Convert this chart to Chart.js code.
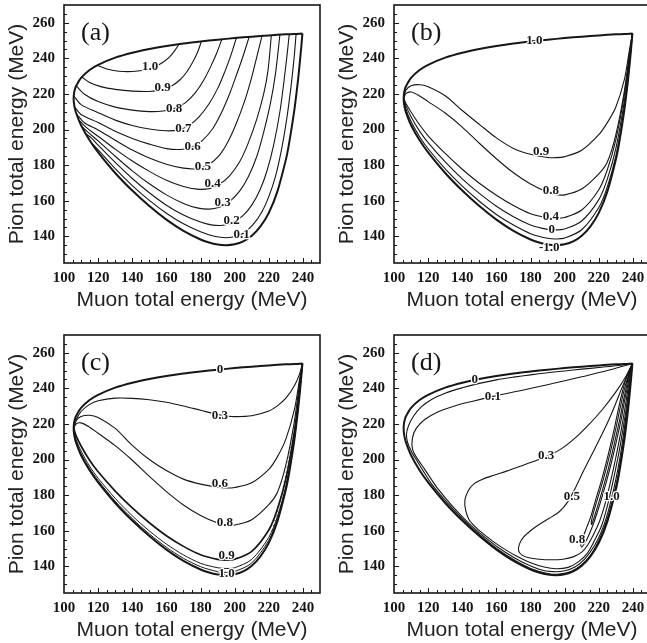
<!DOCTYPE html>
<html>
<head>
<meta charset="utf-8">
<script src="https://cdn.jsdelivr.net/npm/chart.js@4.4.1/dist/chart.umd.min.js"></script>
<style>
  html, body { margin: 0; padding: 0; background: #fff; overflow: hidden; width: 647px; height: 643px; }
  .panel { position: absolute; width: 330px; height: 320px; }
</style>
</head>
<body>
<div class="panel" style="left:0;top:0"><canvas id="pa" width="330" height="320"></canvas></div>
<div class="panel" style="left:330px;top:0"><canvas id="pb" width="330" height="320"></canvas></div>
<div class="panel" style="left:0;top:330px"><canvas id="pc" width="330" height="320"></canvas></div>
<div class="panel" style="left:330px;top:330px"><canvas id="pd" width="330" height="320"></canvas></div>
<script>
// axis ticks (MeV)
const xTicks = [100, 120, 140, 160, 180, 200, 220, 240];
const yTicks = [140, 160, 180, 200, 220, 240, 260];

// allowed region: from the upper-right corner along the top, round the left edge, back along the bottom
const boundary = [
  [239.7, 254], [235, 253.7], [230, 253.5], [220, 252.9], [210, 252.2], [200, 251.4], [190, 250.5],
  [180, 249.5], [170, 248.4], [160, 247.0], [150, 245.3], [140, 243.2], [130, 240.4], [120, 236.4],
  [115, 233.5], [110, 229.1], [107, 224.3], [106.2, 222], [105.8, 219.8], [105.66, 217.5], [105.8, 215.1],
  [106.2, 212.6], [107, 209.6], [110, 202.4], [115, 194.0], [120, 187.2], [130, 175.6], [140, 165.7],
  [150, 157.0], [160, 149.4], [170, 143.1], [180, 138.2], [185, 136.5], [190, 135.4], [195, 135.0],
  [200, 135.5], [205, 137.1], [210, 140.3], [215, 145.4], [220, 153.2], [225, 165.1], [230, 183.1],
  [232, 192.8], [235, 211.2], [237, 226.8], [238, 236.0], [239, 246.2], [239.7, 254]
];

// panel (a) contours
const a10 = [[119.5, 236.1], [125, 234], [132, 232.8], [140, 232.6], [147, 233.5], [153, 235.2], [158, 237.8], [162, 241], [165, 244.5], [167.5, 248.05]];
const a09 = [[110.5, 229.5], [115, 226.5], [122, 224], [130, 222.6], [140, 221.6], [150, 221.4], [157, 222.3], [163, 224.5], [168, 228], [172, 232.5], [176, 239], [178.5, 244], [180.5, 249.55]];
const a08 = [[107.2, 224.5], [112, 219.8], [120, 215.7], [130, 212.6], [140, 210.9], [150, 210.1], [158, 210.4], [165, 211.9], [171, 215], [177, 220.8], [182, 228], [186, 235.5], [189.5, 243], [192.5, 250.75]];
const a07 = [[105.8, 218.8], [110, 214], [120, 209.5], [130, 205.3], [140, 202.3], [150, 200.3], [160, 199.3], [167, 199.8], [173, 202.2], [179, 207], [185, 214.5], [190, 223], [194, 232], [197.5, 241], [201, 251.5]];
const a06 = [[106.2, 212.8], [110, 208.5], [120, 204], [130, 199], [140, 195], [150, 191.8], [160, 189.3], [168, 188.8], [175, 190.2], [181, 193.8], [187, 200.3], [192, 209], [197, 220], [201, 230.5], [205, 241.5], [208.5, 252.1]];
const a05 = [[107.4, 208.7], [112, 203.8], [120, 199.8], [130, 194], [140, 188.5], [150, 184], [160, 180.5], [170, 178.3], [178, 178], [185, 180.5], [191, 185.5], [196, 193], [201, 203.5], [206, 216.5], [210, 229.5], [213, 241], [216, 252.6]];
const a04 = [[108.8, 205.3], [113, 201.2], [120, 196.2], [130, 189], [140, 182.3], [150, 176.5], [160, 171.5], [170, 168], [178, 166.5], [185, 166.8], [191, 169.2], [197, 174], [203, 182], [208, 192.5], [213, 206], [217, 220], [219.5, 233], [221.5, 253]];
const a03 = [[110.5, 201.6], [114, 198.6], [120, 193.6], [130, 185], [140, 176.8], [150, 169.5], [160, 163.3], [170, 158.5], [178, 156], [185, 155.3], [191, 156.3], [197, 159.5], [203, 165.5], [208, 173.5], [213, 185], [217, 198.5], [221, 215], [224, 232], [226.5, 253.3]];
const a02 = [[113, 197.4], [116, 195.3], [120, 191.2], [130, 181.5], [140, 172.5], [150, 164.5], [160, 157.5], [170, 152], [180, 148], [187, 146.3], [193, 146.2], [199, 147.8], [205, 151.8], [210, 157.5], [215, 166.5], [219, 177], [223, 192], [226.5, 210], [229, 228], [230.7, 242], [232, 253.6]];
const a01 = [[116, 192.6], [120, 188.6], [130, 178], [140, 168.5], [150, 160.2], [160, 153], [170, 147], [180, 142.5], [188, 140], [195, 139.2], [201, 140], [206, 142.3], [211, 146.8], [216, 153.8], [220, 162.3], [224, 174], [227.5, 189], [230.5, 206], [233, 224], [234.8, 240], [236, 253.75]];
const labelsA = [['1.0', 150.4, 235.3], ['0.9', 157.8, 223.4], ['0.8', 164.5, 211.8], ['0.7', 169.9, 200.5], ['0.6', 175.4, 190.6],
  ['0.5', 181.3, 179.3], ['0.4', 187.1, 169.4], ['0.3', 193, 158.8], ['0.2', 198.2, 148.6], ['0.1', 204.1, 141]];

// panels (b) and (c): curves from the left edge to the upper-right corner, on one muon-energy grid
const muonGrid = [105.66, 107, 110, 115, 120, 130, 140, 150, 160, 170, 180, 190, 195, 200, 210, 220, 225, 230, 235, 238, 239.7];
const b09 = [217.5, 222.1, 224.6, 225.2, 224.1, 219.0, 210.7, 202.9, 195.3, 189.4, 186.1, 184.3, 184.2, 184.8, 188.4, 197.1, 203.9, 212.7, 228.2, 245, 254];
const b08 = [217.5, 220.2, 221.1, 218.9, 215.7, 209.3, 201.4, 192.3, 183.6, 175.7, 169.4, 164.8, 163.4, 163.3, 166.6, 175.1, 181.8, 197.2, 221.8, 243.2, 254];
const b04 = [217.5, 214.7, 209.9, 202.7, 196.5, 186.6, 177.7, 169.8, 163.1, 157.3, 152.7, 150.4, 150.1, 150.6, 154.8, 166.2, 177.4, 194.4, 219.7, 241.4, 254];
const b00 = [217.5, 213.3, 207.2, 199.1, 192.6, 181.8, 172.3, 164.1, 156.9, 151.0, 146.4, 143.9, 143.6, 144.1, 148.6, 160.6, 172.1, 189.4, 216.3, 239.6, 254];
const bLow = [217.5, 211.4, 204.5, 196.0, 189.2, 177.9, 168.2, 159.7, 152.3, 146.3, 141.5, 138.9, 138.5, 139.0, 143.7, 156.2, 167.8, 185.2, 212.5, 236.9, 254];
const labelsB = [['1.0', 182.3, 250], ['0.9', 186.2, 187.4], ['0.8', 191.9, 165.4], ['0.4', 191.9, 150.8], ['0', 192.5, 143.6], ['-1.0', 191, 133.5]];

const c03 = [217.5, 222, 227, 231, 233, 234.5, 234.4, 233.6, 232.2, 230.1, 227.7, 225.3, 224.5, 224.1, 224.6, 227.3, 230.2, 234.5, 241.5, 248, 254];
const c06 = [217.5, 221.8, 224.2, 224.9, 223.6, 217.5, 208.0, 200.0, 193.8, 189.0, 186.2, 184.4, 184.0, 184.3, 187.0, 194.5, 201.5, 211.5, 228.0, 245.0, 254];
const c08 = [217.5, 220.0, 220.6, 218.2, 214.8, 207.8, 199.6, 190.5, 182.0, 174.5, 168.6, 164.4, 163.2, 163.2, 166.2, 174.6, 181.5, 197.0, 221.5, 243.0, 254];
const c09 = [217.5, 213.6, 207.6, 199.6, 193.1, 182.3, 172.8, 164.5, 157.2, 151.2, 146.5, 143.9, 143.5, 144.0, 148.4, 160.4, 172.0, 189.2, 216.0, 239.4, 254];
const cLow1 = [217.5, 211.6, 204.8, 196.3, 189.5, 178.2, 168.4, 159.9, 152.5, 146.4, 141.7, 139.2, 138.8, 139.2, 143.9, 156.3, 167.9, 185.3, 212.6, 237.0, 254];
const cLow2 = [217.5, 210.5, 203.3, 195.0, 188.2, 176.6, 166.8, 158.2, 150.7, 144.5, 139.8, 137.0, 136.6, 137.1, 141.9, 154.6, 166.4, 184.1, 211.8, 236.4, 254];
// broken stretch just inside the right edge
const cDots = [[221.8, 160], [224, 167], [226.2, 175], [228.2, 183.5], [230, 192], [231.8, 201], [233, 207]];
const labelsC = [['0', 191.4, 250.3], ['0.3', 191.4, 224.5], ['0.6', 191.4, 186.4], ['0.8', 194.3, 164.3], ['0.9', 195.3, 146], ['1.0', 195.3, 135.7]];

// panel (d): closed curves hanging from the upper-right corner
const dInner = [[239.7, 254], [230, 252.7], [220, 251.7], [210, 250.8], [200, 249.8], [190, 248.8], [180, 247.6], [170, 246.3], [160, 244.8], [150, 242.8], [140, 240.3], [130, 237.3], [122, 233.8], [116, 229.6], [111.5, 224.5], [108.5, 219], [107.3, 214], [108, 209.5], [110, 205], [113, 200], [117, 193.8], [122, 186.3], [130, 177], [140, 166.8], [150, 157.9], [160, 150.2], [170, 143.8], [180, 138.8], [190, 136], [197, 135.6], [204, 137.2], [210, 140.9], [215, 146.1], [218.7, 152], [222.5, 160], [226, 170], [228.7, 180], [231, 190], [232.8, 200], [234.4, 210], [235.7, 220], [236.9, 230], [238, 240], [239.7, 254]];
const d01 = [[239.7, 254], [225, 250], [210, 246.5], [190, 242], [170, 238], [158, 235.5], [145, 232.5], [135, 230], [125, 226.5], [118, 222.5], [113, 217.5], [110.8, 212], [110.8, 206], [113, 201.5], [118, 194.5], [125, 184.5], [135, 173], [145, 163.2], [155, 155], [165, 148], [175, 142.4], [185, 138.4], [193, 137], [200, 137.5], [206, 139.6], [212, 144.3], [218, 152.5], [221.5, 159.5], [224.5, 167.5], [227.3, 177.5], [229.8, 188], [232.2, 200], [234, 211], [235.8, 223.5], [237.5, 236.5], [239.7, 254]];
const d03 = [[239.7, 254], [236, 247], [230, 238], [222, 228], [214, 219.5], [206, 212], [198, 206], [190, 202], [182, 199], [174, 196.2], [166, 193.5], [158, 191], [152, 189], [147, 186.5], [143.5, 182.5], [141.5, 177], [142, 171.5], [144, 166.2], [147.5, 162.3], [152, 158.5], [158, 154], [165, 149.5], [172, 145.6], [180, 142], [188, 139.6], [195, 138.6], [202, 139.4], [208, 142.5], [213, 147], [217.5, 154.5], [221.5, 162.5], [224.5, 172], [227, 182], [229.5, 193], [231.8, 204], [233.8, 215], [235.8, 227], [237.7, 240], [239.7, 254]];
const d05 = [[239.7, 254], [236.5, 247], [233, 239], [229.5, 230.5], [225.5, 221.5], [221, 212.5], [216, 203], [211, 193.5], [206.5, 184.5], [202, 176.5], [197, 170.8], [191, 167], [185, 163.5], [180, 160], [176, 156.5], [173.5, 152.5], [173, 148.8], [175, 146.3], [179, 144.8], [185, 144], [192, 143.7], [199, 144], [205, 145.3], [210, 148], [213.5, 152], [217, 158], [220.5, 165.5], [223.5, 174.5], [226, 184], [228.5, 194.5], [230.8, 205], [233, 216], [235, 227], [237, 239], [239.7, 254]];
const d08 = [[239.7, 254], [238, 247], [236.6, 240], [235, 232.5], [233.6, 225], [232, 217.5], [230, 209], [227.8, 200], [225.3, 190.5], [222.5, 181], [219.5, 171.5], [216.3, 162.5], [213.2, 155.5], [211, 152], [209.8, 150.8], [209.5, 152.5], [210.8, 156.5], [213, 162], [215.5, 168.5], [218.2, 177.5], [221.2, 187], [224, 197], [226.7, 207.5], [229.2, 218], [231.5, 228.5], [233.8, 238], [236.3, 246.5], [239.7, 254]];
const d10 = [[239.7, 254], [237.6, 247], [236, 240], [234.3, 232.5], [232.8, 225], [231.1, 217.5], [229.1, 209], [226.9, 200], [224.4, 190.5], [221.6, 181], [218.6, 171.5], [216.8, 166], [215.8, 163.5], [215.6, 164.8], [216.4, 168.5], [219.1, 177.5], [222.1, 187], [224.9, 197], [227.6, 207.5], [230.1, 218], [232.4, 228.5], [234.6, 238], [237, 246.5], [239.7, 254]];
const labelsD = [['0', 147.3, 245], ['0.1', 157.9, 235.2], ['0.3', 189.2, 202.3], ['0.5', 204.2, 178.9], ['1.0', 227.5, 179], ['0.8', 207.3, 155]];

const ink = '#161616';
const tickFont = { family: '"Liberation Serif", "Times New Roman", serif', size: 15, weight: 'bold' };
const titleFont = { family: '"Liberation Sans", Arial, sans-serif', size: 21 };

function pairs(list) { return list.map(([x, y]) => ({ x, y })); }
function onGrid(values) { return values.map((y, i) => ({ x: muonGrid[i], y })); }
function curve(data, width, dash) {
  return { data, showLine: true, borderColor: ink, borderWidth: width, borderDash: dash || [], pointRadius: 0, tension: 0.3, fill: false };
}

// box, inward tick marks, contour labels and panel letter
const framePlugin = {
  id: 'frame',
  afterDatasetsDraw(chart, args, opts) {
    const { ctx, chartArea: a, scales: { x, y } } = chart;
    ctx.save();
    ctx.strokeStyle = ink;
    ctx.lineWidth = 1.6;
    ctx.strokeRect(a.left, a.top, a.right - a.left, a.bottom - a.top);

    ctx.lineWidth = 1;
    ctx.beginPath();
    for (let v = 105; v < 250; v += 5) {
      const px = Math.round(x.getPixelForValue(v)) + 0.5;
      const len = v % 20 === 0 ? 5 : 3;
      ctx.moveTo(px, a.bottom);
      ctx.lineTo(px, a.bottom - len);
    }
    for (let v = 130; v < 270; v += 5) {
      const py = Math.round(y.getPixelForValue(v)) + 0.5;
      const len = v % 20 === 0 ? 5 : 3;
      ctx.moveTo(a.left, py);
      ctx.lineTo(a.left + len, py);
    }
    ctx.stroke();

    ctx.font = 'bold 13px "Liberation Serif", serif';
    ctx.textAlign = 'center';
    ctx.textBaseline = 'middle';
    ctx.lineJoin = 'round';
    opts.labels.forEach(([text, e, p]) => {
      const px = x.getPixelForValue(e);
      const py = y.getPixelForValue(p);
      ctx.strokeStyle = '#fff';
      ctx.lineWidth = 2.5;
      ctx.strokeText(text, px, py);
      ctx.fillStyle = ink;
      ctx.fillText(text, px, py);
    });

    ctx.font = '26px "Liberation Serif", serif';
    ctx.textAlign = 'left';
    ctx.fillText(opts.letter, a.left + 17, a.top + 28);
    ctx.restore();
  }
};

function drawPanel(id, letter, datasets, labels) {
  new Chart(document.getElementById(id), {
    type: 'scatter',
    data: { datasets },
    options: {
      responsive: false,
      animation: false,
      events: [],
      layout: { padding: { left: 0, top: 5, right: 10, bottom: 0 } },
      plugins: {
        legend: { display: false },
        tooltip: { enabled: false },
        frame: { letter, labels }
      },
      scales: {
        x: {
          type: 'linear', min: 100, max: 250,
          afterBuildTicks: s => { s.ticks = xTicks.map(v => ({ value: v })); },
          afterFit: s => { s.height = 57; s.paddingLeft = 0; s.paddingRight = 0; },
          grid: { display: false, drawTicks: false },
          border: { display: false },
          ticks: { font: tickFont, color: ink, padding: 6, maxRotation: 0, autoSkip: false },
          title: { display: true, text: 'Muon total energy (MeV)', font: titleFont, color: '#222', padding: { top: 0, bottom: 7 } }
        },
        y: {
          type: 'linear', min: 125, max: 270,
          afterBuildTicks: s => { s.ticks = yTicks.map(v => ({ value: v })); },
          afterFit: s => { s.width = 64; s.paddingTop = 0; s.paddingBottom = 0; },
          grid: { display: false, drawTicks: false },
          border: { display: false },
          ticks: { font: tickFont, color: ink, padding: 9, autoSkip: false },
          title: { display: true, text: 'Pion total energy (MeV)', font: titleFont, color: '#222', padding: { top: 5, bottom: 0 } }
        }
      }
    },
    plugins: [framePlugin]
  });
}

drawPanel('pa', '(a)', [
  curve(pairs(boundary), 2),
  ...[a10, a09, a08, a07, a06, a05, a04, a03, a02, a01].map(c => curve(pairs(c), 1.1))
], labelsA);

drawPanel('pb', '(b)', [
  curve(pairs(boundary), 2),
  ...[b09, b08, b04, b00, bLow].map(c => curve(onGrid(c), 1.1))
], labelsB);

drawPanel('pc', '(c)', [
  curve(pairs(boundary), 2),
  curve(onGrid(c03), 1.1),
  curve(onGrid(c06), 1.1),
  curve(onGrid(c08), 1.1),
  curve(onGrid(c09), 1.7),
  curve(onGrid(cLow1), 1),
  curve(onGrid(cLow2), 1),
  curve(pairs(cDots), 1, [1, 4])
], labelsC);

drawPanel('pd', '(d)', [
  curve(pairs(boundary), 2),
  ...[dInner, d01, d03, d05, d08, d10].map(c => curve(pairs(c), 1.1))
], labelsD);
</script>
</body>
</html>
